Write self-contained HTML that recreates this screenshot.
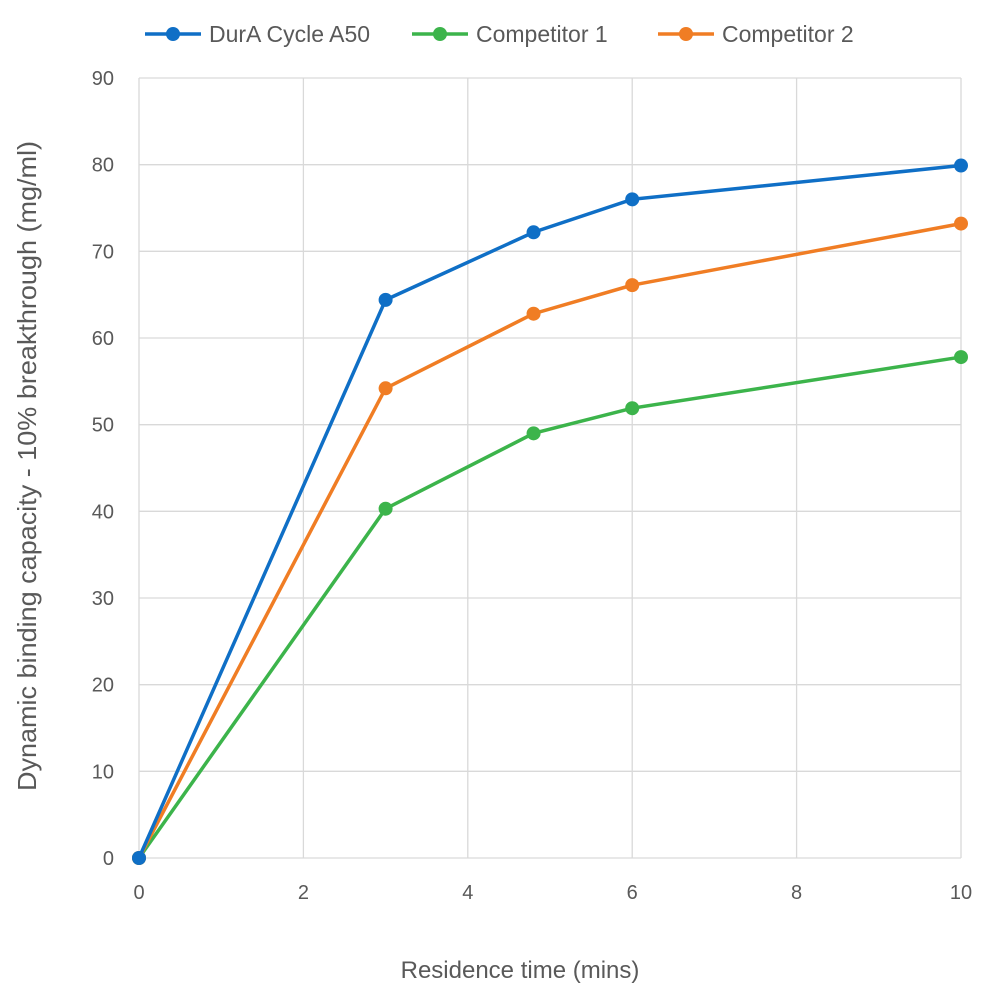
<!DOCTYPE html>
<html><head><meta charset="utf-8"><style>
body{margin:0;background:#fff;}
svg text{font-family:"Liberation Sans",sans-serif;fill:#595959;}
</style></head><body>
<svg id="chart" width="1000" height="1000" xmlns="http://www.w3.org/2000/svg">
<g id="grid"></g>
<g id="axes"></g>
<g id="series"></g>
<g id="legend"></g>
<text transform="translate(36,466) rotate(-90)" text-anchor="middle" font-size="26" textLength="650" lengthAdjust="spacingAndGlyphs">Dynamic binding capacity - 10% breakthrough (mg/ml)</text>
<text x="520" y="978" text-anchor="middle" font-size="24">Residence time (mins)</text>
</svg>
<script>
const xValues=[0,3,4.8,6,10];
const duraValues=[0,64.4,72.2,76,79.9];
const comp1Values=[0,40.3,49,51.9,57.8];
const comp2Values=[0,54.2,62.8,66.1,73.2];
const xTicks=[0,2,4,6,8,10];
const yTicks=[0,10,20,30,40,50,60,70,80,90];
const seriesNames=["DurA Cycle A50","Competitor 1","Competitor 2"];
const NS="http://www.w3.org/2000/svg";
const X0=139,X1=961,Y0=858,Y1=78;
const xs=v=>X0+(v-0)/10*(X1-X0);
const ys=v=>Y0-(v/90)*(Y0-Y1);
function mk(t,a,p){const e=document.createElementNS(NS,t);for(const k in a)e.setAttribute(k,a[k]);p.appendChild(e);return e;}
const grid=document.getElementById('grid'),axes=document.getElementById('axes');
yTicks.forEach(t=>{
 const l=mk('line',{x1:X0,x2:X1,y1:ys(t),y2:ys(t),stroke:'#d9d9d9','stroke-width':1.3},grid);
 
 
 const tx=mk('text',{x:X0-25,y:ys(t)+7,'text-anchor':'end','font-size':20},axes);tx.textContent=t;
 
 
});
xTicks.forEach(t=>{
 const l=mk('line',{x1:xs(t),x2:xs(t),y1:Y1,y2:Y0,stroke:'#d9d9d9','stroke-width':1.3},grid);
 
 
 const tx=mk('text',{x:xs(t),y:Y0+41,'text-anchor':'middle','font-size':20},axes);tx.textContent=t;
 
 
});
const ser=document.getElementById('series');
const all=[[comp1Values,'#3cb44b','competitor-1'],[comp2Values,'#f07d24','competitor-2'],[duraValues,'#0f6fc6','dura-cycle-a50']];
all.forEach(([vals,c,n])=>{
 const g=mk('g',{},ser);
 
 
 const p=mk('polyline',{points:xValues.map((x,i)=>xs(x)+','+ys(vals[i])).join(' '),fill:'none',stroke:c,'stroke-width':3.5},g);
 
 
 xValues.forEach((x,i)=>{
  const m=mk('circle',{cx:xs(x),cy:ys(vals[i]),r:7,fill:c},g);
  
  
 });
});
const leg=document.getElementById('legend');
const lx=[145,412,658],lc=['#0f6fc6','#3cb44b','#f07d24'];
seriesNames.forEach((s,i)=>{
 const g=mk('g',{},leg);
 
 
 mk('line',{x1:lx[i],x2:lx[i]+56,y1:34,y2:34,stroke:lc[i],'stroke-width':3.5},g);
 mk('circle',{cx:lx[i]+28,cy:34,r:7,fill:lc[i]},g);
 const t=mk('text',{x:lx[i]+64,y:42,'font-size':23},g);t.textContent=s;
});
</script>
</body></html>
